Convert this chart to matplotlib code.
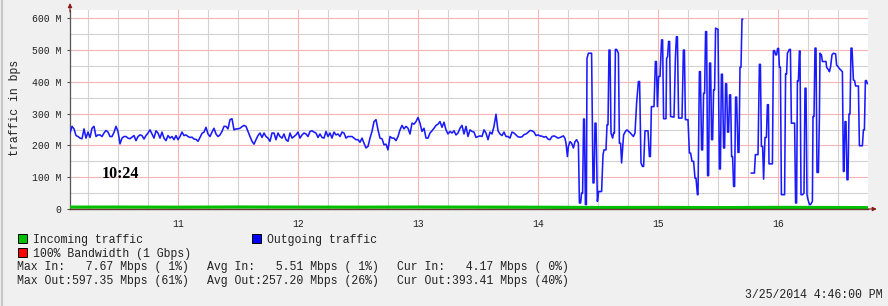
import numpy as np
import matplotlib
matplotlib.use("Agg")
import matplotlib.pyplot as plt
from matplotlib.patches import Rectangle

# ---------------- data (Mbps, time in minutes after 10:00) ----------------
steady_start = 6  # first sample, minutes after 10:00 (one sample per minute)
steady_out = [
    239, 260, 252, 231, 228, 223, 221, 252, 223, 242,
    225, 254, 260, 228, 233, 233, 228, 239, 247, 242,
    228, 228, 241, 260, 244, 205, 223, 228, 228, 223,
    221, 226, 231, 215, 228, 233, 231, 220, 231, 239,
    249, 236, 223, 246, 239, 223, 242, 223, 215, 231,
    223, 228, 218, 231, 218, 228, 242, 231, 233, 228,
    225, 226, 220, 219, 213, 225, 238, 242, 257, 236,
    228, 242, 254, 236, 228, 233, 244, 260, 260, 252,
    281, 284, 249, 252,
    252, 254, 259, 263, 260, 244, 228, 213, 204, 218,
    231, 239, 225, 239, 228, 223, 213, 239, 239, 218,
    239, 228, 223, 236, 218, 213, 239, 223, 228, 233,
    242, 223, 233, 239, 236, 228, 244, 246, 242, 239,
    225, 236, 225, 223, 244, 228, 239, 223, 242, 233,
    236, 228, 242, 239, 223, 228, 228, 228, 223, 218,
    218, 210, 223, 207, 192, 197, 223, 244, 275, 281,
    249, 223, 221, 202, 204, 186, 228, 223, 223, 215,
    228, 249, 263, 252,
    260, 254, 236, 270, 267, 275, 288, 270, 244, 254,
    223, 223, 239, 246, 254, 263, 267, 275, 257, 273,
    249, 236, 244, 239, 246, 233, 239, 254, 263, 236,
    260, 228, 249, 244, 242, 225, 228, 230, 228, 249,
    239, 218, 242, 236, 260, 298, 246, 236, 231, 242,
    228, 228, 223, 242, 239, 233, 227, 226, 227, 234,
    236, 241, 247, 246, 242, 231, 233, 230, 229, 226,
    228, 220, 218, 228, 230, 227, 223, 225,
]

burst_t = [
    252.7, 253.5, 254.0, 254.7, 255.2, 256.0, 256.8, 257.7, 258.5, 259.3,
    260.2, 260.7, 261.3, 261.8, 262.3, 262.8, 263.2, 263.7, 264.2, 264.5,
    265.2, 266.8, 267.5, 268.0, 268.5, 269.0, 269.7, 270.3, 271.8, 272.5,
    273.0, 274.0, 274.5, 275.0, 275.5, 276.0, 276.5, 277.3, 277.8, 278.2,
    278.7, 279.3, 280.2, 280.7, 281.3, 281.8, 282.3, 282.8, 283.7, 284.5,
    285.3, 286.2, 287.0, 287.7, 288.5, 289.3, 290.2, 290.8, 291.5, 292.2,
    292.8, 293.5, 295.0, 295.7, 296.2, 296.7, 298.0, 298.7, 299.2, 299.7,
    300.3, 301.0, 301.8, 302.3, 302.8, 304.0, 304.3, 304.8, 305.3, 305.8,
    306.3, 308.0, 308.7, 309.2, 309.7, 310.3, 312.0, 312.7, 313.2, 313.7,
    315.0, 315.7, 316.3, 317.0, 317.8, 318.5, 319.0, 319.7, 320.0, 320.7,
    321.2, 321.8, 322.3, 322.8, 323.3, 323.8, 324.3, 324.8, 325.3, 325.8,
    326.3, 326.8, 327.3, 327.8, 328.3, 328.8, 330.0, 330.7, 331.2, 331.7,
    332.2, 332.8, 333.3, 333.8, 334.3, 334.8, 335.3, 335.8, 336.3, 336.8,
    337.3, 337.8, 338.3, 338.8, 339.3, 340.0, 340.5, 341.0, 341.5, 342.0,
    342.3, 343.0, 346.7, 348.2, 348.7, 350.0, 350.7, 351.2, 351.7, 352.3,
    352.8, 353.5, 354.2, 354.7, 355.2, 355.5, 357.2, 357.7, 358.3, 358.8,
    359.3, 359.8, 360.3, 360.7, 361.2, 361.7, 363.3, 363.8, 364.3, 364.7,
    365.7, 366.2, 366.7, 368.3, 368.8, 369.3, 369.7, 370.2, 370.7, 371.0,
    371.5, 372.3, 373.0, 373.5, 374.0, 374.5, 375.0, 375.8, 376.3, 377.2,
    377.5, 378.0, 378.5, 379.0, 379.5, 380.2, 380.7, 381.0, 381.7, 382.2,
    384.0, 384.3, 385.2, 385.7, 386.3, 387.0, 387.7, 388.8, 389.3, 390.0,
    390.5, 391.3, 392.2, 392.7, 393.0, 393.5, 394.0, 394.5, 395.0, 395.5,
    396.0, 396.5, 397.0, 397.7, 398.3, 398.8, 400.2, 400.7, 402.2, 402.7,
    403.2, 403.7, 404.2, 404.7, 405.3,
]
nan = float("nan")
burst_v = [
    230, 222, 207, 165, 197, 212, 207, 192, 212, 218,
    207, 19, 19, 50, 50, 283, 283, 14, 14, 474,
    490, 490, 82, 82, 270, 270, 24, 55, 55, 170,
    186, 186, 265, 265, 500, 500, 239, 223, 239, 239,
    502, 502, 490, 207, 207, 145, 190, 233, 244, 249,
    244, 239, 233, 228, 239, 333, 401, 401, 145, 134,
    134, 246, 246, 165, 165, 322, 322, 464, 464, 322,
    417, 417, 532, 532, 284, 284, 474, 479, 527, 527,
    291, 289, 474, 542, 542, 286, 286, 500, 500, 281,
    281, 176, 176, 150, 150, 97, 97, 45, 45, 432,
    432, 186, 186, 364, 364, 558, 558, 105, 105, 459,
    459, 218, 218, 375, 375, 569, 565, 126, 126, 424,
    424, 192, 192, 394, 394, 242, 242, 359, 359, 165,
    165, 71, 71, 352, 352, 178, 178, 446, 446, 597,
    597, nan, 113, 113, 171, 171, 455, 455, 197, 197,
    94, 225, 225, 328, 328, 142, 142, 498, 498, 485,
    485, 505, 505, 446, 446, 45, 45, 425, 425, 490,
    502, 502, 270, 270, 19, 19, 403, 403, 497, 497,
    45, 45, 50, 380, 380, 45, 29, 14, 14, 24,
    291, 291, 506, 506, 115, 115, 286, 490, 485, 464,
    464, 446, 438, 432, 448, 485, 490, 488, 453, 448,
    443, 438, 432, 118, 118, 275, 275, 92, 92, 299,
    299, 506, 506, 406, 404, 387, 387, 199, 199, 249,
    249, 404, 404, 394, 394,
]

in_t = [6, 30, 60, 90, 120, 150, 180, 210, 240, 270, 300, 330, 360, 390, 405]
in_v = [5.8, 6.0, 5.6, 6.2, 5.9, 5.7, 6.1, 5.8, 5.5, 4.6, 4.9, 4.3, 5.0, 4.6, 4.2]

hour_ticks = [60, 120, 180, 240, 300, 360]
hour_labels = ["11", "12", "13", "14", "15", "16"]
y_ticks = [0, 100, 200, 300, 400, 500, 600]
y_labels = ["0", "100 M", "200 M", "300 M", "400 M", "500 M", "600 M"]

legend_items = [("Incoming traffic", "#00c000"), ("Outgoing traffic", "#0000ff"),
                ("100% Bandwidth (1 Gbps)", "#ff0000")]
stats_rows = [
    ["Max In:   7.67 Mbps ( 1%)", "Avg In:   5.51 Mbps ( 1%)", "Cur In:   4.17 Mbps ( 0%)"],
    ["Max Out:597.35 Mbps (61%)", "Avg Out:257.20 Mbps (26%)", "Cur Out:393.41 Mbps (40%)"],
]
timestamp = "3/25/2014 4:46:00 PM"
note = "10:24"

# ---------------- figure ----------------
MONO = "Liberation Mono"
W, H = 888, 306
fig = plt.figure(figsize=(W / 100, H / 100), dpi=100, facecolor="#f0f0f0")

ax = fig.add_axes([70 / W, 1 - 209 / H, 798 / W, 199 / H])
ax.set_facecolor("white")
ax.set_xlim(6, 405)
ax.set_ylim(0, 626)

out_t = list(np.arange(steady_start, steady_start + len(steady_out))) + burst_t
out_v = steady_out + burst_v
ax.plot(out_t, out_v, color="#1a1aff", lw=1.15, zorder=3)
ax.plot(in_t, in_v, color="#00c000", lw=2.3, zorder=4, solid_capstyle="butt")

ax.set_xticks(hour_ticks)
ax.set_xticklabels(hour_labels, fontfamily=MONO, fontsize=7)
ax.set_xticks([m for m in range(15, 405, 15) if m % 60], minor=True)
ax.set_yticks(y_ticks)
ax.set_yticklabels(y_labels, fontfamily=MONO, fontsize=7)
ax.set_yticks(np.arange(50, 626, 100), minor=True)
ax.grid(True, which="minor", color="#d2d2d2", lw=0.8, zorder=0)
ax.grid(True, which="major", color="#f2b4b4", lw=0.8, zorder=1)
ax.set_axisbelow(True)
ax.tick_params(axis="x", which="both", length=0, pad=7, colors="#222222")
ax.tick_params(axis="y", which="major", length=2.5, width=0.8, pad=3.5,
               colors="#555555", labelcolor="#222222")
ax.tick_params(axis="y", which="minor", length=0)
for s in ("top", "right"):
    ax.spines[s].set_visible(False)
ax.spines["left"].set_color("#555555")
ax.spines["left"].set_linewidth(0.9)
ax.spines["bottom"].set_color("#6b3535")
ax.spines["bottom"].set_linewidth(1.0)
ax.spines["bottom"].set_zorder(5)

# axis arrows
ax.annotate("", xy=(0, 1.035), xytext=(0, 0.99), xycoords="axes fraction",
            arrowprops=dict(arrowstyle="-|>", color="#8b1a1a", lw=0.8,
                            mutation_scale=6, shrinkA=0, shrinkB=0))
ax.annotate("", xy=(1.011, 0), xytext=(0.995, 0), xycoords="axes fraction",
            arrowprops=dict(arrowstyle="-|>", color="#8b1a1a", lw=0.8,
                            mutation_scale=6, shrinkA=0, shrinkB=0))

# overlay in pixel coords for text & legend
ov = fig.add_axes([0, 0, 1, 1], facecolor="none")
ov.set_xlim(0, W)
ov.set_ylim(H, 0)
ov.axis("off")
ov.plot([1.5, 1.5], [0, H], color="#c8c8c8", lw=1.6)

ov.text(15, 108, "traffic in bps", rotation=90, ha="center", va="center",
        fontfamily=MONO, fontsize=8.3, color="#222222")
ov.text(102, 174, note, ha="left", va="center", fontfamily="Liberation Serif",
        fontweight="bold", fontsize=11.5, color="black")

def swatch(x, yb, color, label):
    ov.add_patch(Rectangle((x, yb - 8.5), 9, 9, facecolor=color,
                           edgecolor="black", lw=0.7))
    ov.text(x + 15, yb, label, ha="left", va="baseline", fontfamily=MONO,
            fontsize=8.3, color="#222222")

swatch(17.5, 242.5, legend_items[0][1], legend_items[0][0])
swatch(251.5, 242.5, legend_items[1][1], legend_items[1][0])
swatch(17.5, 256.5, legend_items[2][1], legend_items[2][0])

col_x = [17, 207, 397]
row_y = [270, 284]
for r, row in enumerate(stats_rows):
    for c, txt in enumerate(row):
        ov.text(col_x[c], row_y[r], txt, ha="left", va="baseline",
                fontfamily=MONO, fontsize=8.3, color="#222222")
ov.text(882, 297.5, timestamp, ha="right", va="baseline", fontfamily=MONO,
        fontsize=8.3, color="#222222")

fig.savefig("out.png", dpi=100, facecolor=fig.get_facecolor())
